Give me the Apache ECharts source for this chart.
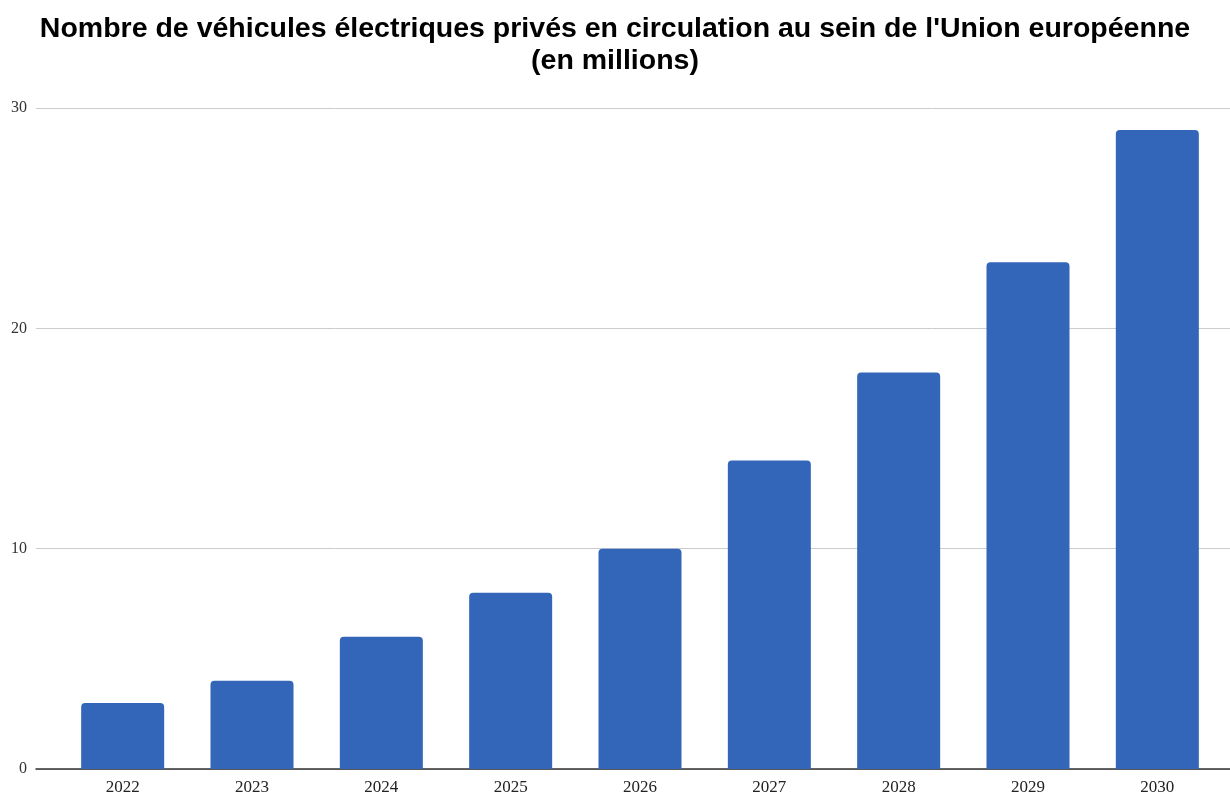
<!DOCTYPE html>
<html>
<head>
<meta charset="utf-8">
<script src="https://cdn.jsdelivr.net/npm/echarts@6/dist/echarts.min.js"></script>
<style>
  html, body { margin: 0; padding: 0; background: #fff; }
  #chart { width: 1230px; height: 793px; }
</style>
</head>
<body>
<div id="chart"></div>
<script>
// years on the x axis
var annees = ['2022', '2023', '2024', '2025', '2026', '2027', '2028', '2029', '2030'];
// vehicles in circulation, millions
var vehicules = [3, 4, 6, 8, 10, 14, 18, 23, 29];
var yMax = 30;
var yStep = 10;

var chart = echarts.init(document.getElementById('chart'));
var option = {
    animation: false,
    title: {
        text: "Nombre de véhicules électriques privés en circulation au sein de l'Union européenne\n(en millions)",
        left: 'center',
        top: 8,
        textStyle: {
            fontFamily: 'Liberation Sans, Arial, sans-serif',
            fontWeight: 'bold',
            fontSize: 28.5,
            lineHeight: 32,
            color: '#000'
        }
    },
    // grid 0 carries the horizontal lines across the full width, grid 1 the bars
    grid: [
        { left: 36, right: 0, top: 108, bottom: 24, outerBoundsMode: 'none' },
        { left: 58, right: 8, top: 108, bottom: 24, outerBoundsMode: 'none' }
    ],
    xAxis: [
        {
            gridIndex: 0, type: 'category', data: annees,
            axisLine: { show: true, lineStyle: { color: '#333', width: 1.5 } },
            axisTick: { show: false }, axisLabel: { show: false }
        },
        {
            gridIndex: 1, type: 'category', data: annees,
            axisLine: { show: false }, axisTick: { show: false },
            axisLabel: {
                margin: 10,
                fontFamily: 'Liberation Serif, Times New Roman, serif',
                fontSize: 17,
                color: '#222'
            }
        }
    ],
    yAxis: [
        {
            gridIndex: 0, type: 'value', min: 0, max: yMax, interval: yStep,
            axisLine: { show: false }, axisTick: { show: false },
            axisLabel: {
                margin: 9,
                fontFamily: 'Liberation Serif, Times New Roman, serif',
                fontSize: 16,
                color: '#333'
            },
            splitLine: { lineStyle: { color: '#cccccc', width: 1 } }
        },
        {
            gridIndex: 1, type: 'value', min: 0, max: yMax, interval: yStep,
            axisLine: { show: false }, axisTick: { show: false },
            axisLabel: { show: false }, splitLine: { show: false }
        }
    ],
    series: [
        {
            type: 'bar',
            xAxisIndex: 1,
            yAxisIndex: 1,
            data: vehicules,
            barWidth: 83,
            itemStyle: { color: '#3366b9', borderRadius: [4, 4, 0, 0] },
            z: 1
        }
    ]
};
chart.setOption(option);
</script>
</body>
</html>
